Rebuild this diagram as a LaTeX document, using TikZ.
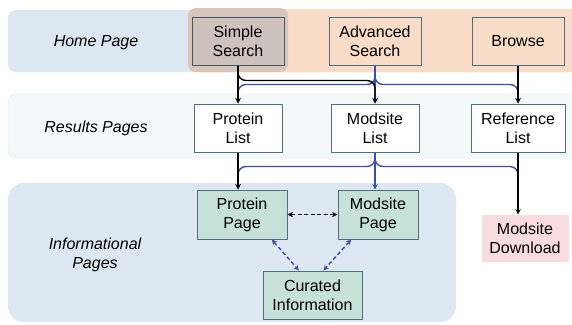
\documentclass[tikz,border=0pt]{standalone}
\usepackage{fontspec}
\setmainfont{Liberation Sans}
\usetikzlibrary{shapes,arrows,positioning,calc}

\definecolor{homeband}{HTML}{DCE7F2}
\definecolor{searchband}{HTML}{F8DCC7}
\definecolor{simpleglow}{HTML}{D9C6BA}
\definecolor{simplefill}{HTML}{CDC2BC}
\definecolor{resband}{HTML}{F3F8F8}
\definecolor{infoband}{HTML}{DDE8F3}
\definecolor{pagefill}{HTML}{C6E1D8}
\definecolor{dlfill}{HTML}{F9DCE0}
\definecolor{boxedge}{HTML}{52707C}
\definecolor{linkblue}{HTML}{3D50A6}

\begin{document}
\begin{tikzpicture}[x=1pt,y=-1pt,>=stealth,line width=1.4pt,
	every node/.style={font=\fontsize{16}{19}\selectfont,align=center,line width=1pt},
	search/.style={draw=boxedge,fill=searchband,minimum width=92pt,minimum height=48pt},
	result/.style={draw=boxedge,fill=white,minimum width=88pt,minimum height=48pt},
	page/.style={draw=boxedge,fill=pagefill,minimum width=90pt,minimum height=49pt},
	band/.style={font=\fontsize{16}{19}\selectfont\itshape},
	blueline/.style={draw=linkblue},
	link/.style={dash pattern=on 4pt off 2.5pt}]
	\useasboundingbox (0,0) rectangle (572,324);

	% background bands
	\fill[homeband,rounded corners=8pt] (8,10) rectangle (590,72);
	\fill[searchband,rounded corners=8pt] (188,9) rectangle (590,72);
	\fill[simpleglow,rounded corners=8pt] (188,8) rectangle (288,72);
	\filldraw[fill=resband,draw=resband!90!black,very thin,rounded corners=8pt] (8,94) rectangle (590,158);
	\fill[infoband,rounded corners=16pt] (8,183) rectangle (456,322);

	\node[band] (homelbl) at (96,43) {Home Page};
	\node[band] (reslbl) at (96,128) {Results Pages};
	\node[band] (infolbl) at (95,255) {Informational\\Pages};

	\node[search,fill=simplefill,draw=boxedge!80!black] (simple) at (238,41) {Simple\\Search};
	\node[search] (adv) [right=44pt of simple] {Advanced\\Search};
	\node[search] (browse) [right=50pt of adv] {Browse};

	\node[result] (plist) [below=38pt of simple] {Protein\\List};
	\node[result] (mlist) [below=38pt of adv] {Modsite\\List};
	\node[result,minimum width=94pt] (rlist) [below=38pt of browse] {Reference\\List};

	\node[page] (ppage) [below=37pt of plist,xshift=4pt] {Protein\\Page};
	\node[page,minimum width=80pt] (mpage) [below=37pt of mlist,xshift=3pt] {Modsite\\Page};
	\node[page,minimum width=99pt,minimum height=48pt] (cinfo) at (312.5,295) {Curated\\Information};
	\node[fill=dlfill,minimum width=87pt,minimum height=47pt] (dload) [below=62pt of rlist,xshift=7pt] {Modsite\\Download};

	% home -> results
	\draw[blueline,->] (adv.south) -- (mlist.north);
	\draw[blueline,rounded corners=8pt,->] (adv.south) |- ($(plist.north)+(0,-19)$) -- (plist.north);
	\draw[blueline,rounded corners=8pt,->] (adv.south) |- ($(rlist.north)+(0,-19)$) -- (rlist.north);
	\draw[->] (simple.south) -- (plist.north);
	\draw[rounded corners=8pt,->] (simple.south) |- ($(mlist.north)+(0,-23)$) -- (mlist.north);
	\draw[->] (browse.south) -- (rlist.north);

	% results -> pages
	\draw[blueline,->] (mlist.south) -- (mlist.south |- mpage.north);
	\draw[blueline,rounded corners=8pt,->] (mlist.south) |- ($(plist.south)+(0,14)$) -- (plist.south |- ppage.north);
	\draw[blueline,rounded corners=8pt] (mlist.south) |- ($(rlist.south)+(0,14)$) -- ($(rlist.south)+(0,28)$);
	\draw[->] (plist.south) -- (plist.south |- ppage.north);
	\draw[->] (rlist.south) -- (rlist.south |- dload.north);

	% between pages
	\draw[<->,link] (ppage.east) -- (mpage.west);
	\draw[blueline,<->,link] (ppage.-40) -- (cinfo.119);
	\draw[blueline,<->,link] (mpage.-137) -- (cinfo.66);
\end{tikzpicture}
\end{document}
